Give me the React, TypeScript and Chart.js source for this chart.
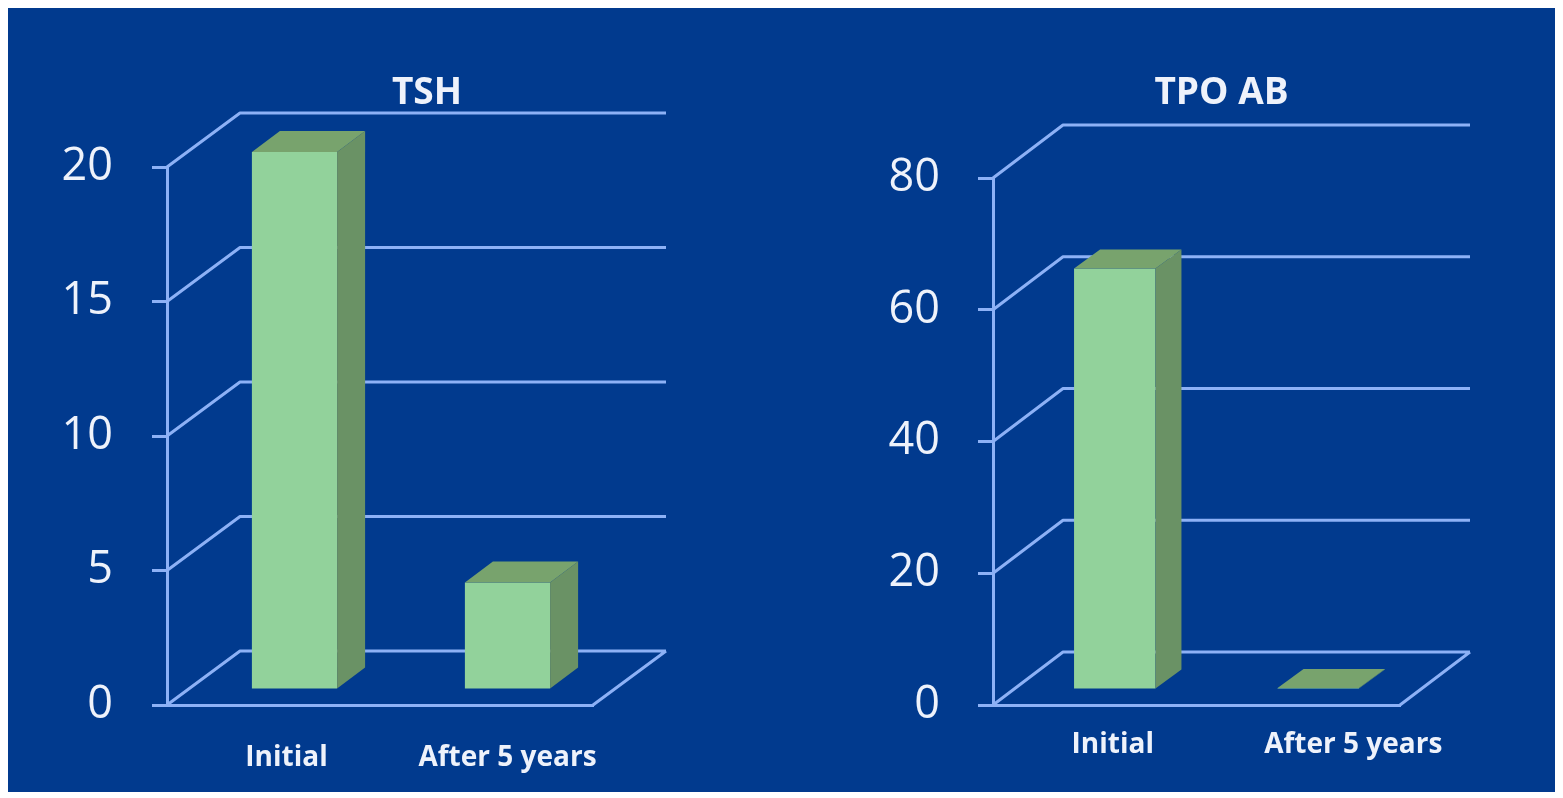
import React, { useEffect, useRef } from "react";
import { Chart, registerables } from "chart.js";

Chart.register(...registerables);

// ---- data ----
const categories = ["Initial", "After 5 years"];
const tshValues = [20, 4];
const tpoValues = [64, 0.3];
const tshTicks = [0, 5, 10, 15, 20];
const tpoTicks = [0, 20, 40, 60, 80];
const titles = ["TSH", "TPO AB"];

// ---- styles ----
const BG = "#013a8e";
const LINE = "#8db1f6";
const LW = 3;
const FRONT = "#92d29b";
const SIDE = "#6a9265";
const TOP = "#78a36d";
const TEXT = "#eef2fb";

type Cfg = {
  title: string;
  labels: string[];
  values: number[];
  ticks: number[];
  width: number;
  height: number;
  area: { left: number; right: number; top: number; bottom: number };
  depth: { dx: number; dy: number };
  plane: { dx: number; dy: number };
  barDepth: { dx: number; dy: number };
  tickPadding: number;
  titleShift: number;
  titleY: number;
  labelShift: number[];
  labelDy: number;
};

function poly(ctx: CanvasRenderingContext2D, pts: number[]) {
  ctx.beginPath();
  ctx.moveTo(pts[0], pts[1]);
  for (let i = 2; i < pts.length; i += 2) ctx.lineTo(pts[i], pts[i + 1]);
  ctx.closePath();
  ctx.fill();
}

function make3D(cfg: Cfg) {
  return {
    id: "threeD",
    beforeDatasetsDraw(chart: any) {
      const { ctx, chartArea: a, scales } = chart;
      const y = scales.y;
      ctx.save();
      ctx.strokeStyle = LINE;
      ctx.lineWidth = LW;
      ctx.lineJoin = "round";
      ctx.beginPath();
      for (const t of y.ticks) {
        const py = y.getPixelForValue(t.value);
        ctx.moveTo(a.left, py);
        ctx.lineTo(a.left + cfg.depth.dx, py + cfg.depth.dy);
        ctx.lineTo(a.right + cfg.depth.dx, py + cfg.depth.dy);
      }
      const p0 = y.getPixelForValue(0);
      ctx.moveTo(a.right, p0);
      ctx.lineTo(a.right + cfg.depth.dx, p0 + cfg.depth.dy);
      ctx.stroke();
      ctx.restore();
      ctx.save();
      ctx.translate(cfg.plane.dx, cfg.plane.dy);
    },
    afterDatasetsDraw(chart: any) {
      const { ctx, chartArea: a, scales } = chart;
      const meta = chart.getDatasetMeta(0);
      const bd = cfg.barDepth;
      meta.data.forEach((el: any) => {
        const { x, y, base, width } = el.getProps(["x", "y", "base", "width"], true);
        const l = x - width / 2;
        const r = x + width / 2;
        ctx.fillStyle = SIDE;
        poly(ctx, [r, y, r + bd.dx, y + bd.dy, r + bd.dx, base + bd.dy, r, base]);
        ctx.fillStyle = TOP;
        poly(ctx, [l, y, l + bd.dx, y + bd.dy, r + bd.dx, y + bd.dy, r, y]);
      });
      ctx.restore();

      // category labels
      ctx.save();
      ctx.fillStyle = TEXT;
      ctx.textAlign = "center";
      ctx.textBaseline = "middle";
      ctx.font = "bold 28px 'Open Sans'";
      const xs = scales.x;
      cfg.labels.forEach((lab, i) => {
        ctx.fillText(lab, xs.getPixelForValue(i) + cfg.labelShift[i], a.bottom + cfg.labelDy);
      });
      // title
      ctx.font = "bold 37px 'Open Sans'";
      ctx.fillText(cfg.title, (a.left + a.right) / 2 + cfg.titleShift, cfg.titleY);
      ctx.restore();
    },
  };
}

function Bar3D({ cfg }: { cfg: Cfg }) {
  const ref = useRef<HTMLCanvasElement>(null);
  useEffect(() => {
    if (!ref.current) return;
    const a = cfg.area;
    const xAxisH = 40;
    const chart = new Chart(ref.current, {
      type: "bar",
      data: {
        labels: cfg.labels,
        datasets: [
          {
            data: cfg.values,
            backgroundColor: FRONT,
            borderWidth: 0,
            barPercentage: 0.4,
            categoryPercentage: 1,
            clip: false as any,
          },
        ],
      },
      options: {
        animation: false,
        responsive: false,
        devicePixelRatio: 1,
        layout: {
          padding: {
            left: 0,
            top: a.top,
            right: cfg.width - a.right,
            bottom: cfg.height - a.bottom - xAxisH,
          },
        },
        plugins: { legend: { display: false }, tooltip: { enabled: false }, title: { display: false } },
        scales: {
          x: {
            type: "category",
            grid: { display: false },
            border: { display: true, color: LINE, width: LW },
            ticks: { display: false },
            afterFit: (s: any) => {
              s.height = xAxisH;
            },
          },
          y: {
            min: cfg.ticks[0],
            max: cfg.ticks[cfg.ticks.length - 1],
            afterBuildTicks: (s: any) => {
              s.ticks = cfg.ticks.map((v) => ({ value: v }));
            },
            grid: {
              display: true,
              drawOnChartArea: false,
              drawTicks: true,
              tickLength: 15,
              color: LINE,
              lineWidth: LW,
            },
            border: { display: true, color: LINE, width: LW },
            ticks: {
              color: TEXT,
              padding: cfg.tickPadding,
              font: { family: "'Open Sans'", size: 45 },
            },
            afterFit: (s: any) => {
              s.width = a.left;
            },
          },
        },
      },
      plugins: [make3D(cfg)],
    });
    return () => chart.destroy();
  }, [cfg]);
  return <canvas ref={ref} width={cfg.width} height={cfg.height} style={{ display: "block" }} />;
}

const leftCfg: Cfg = {
  title: titles[0],
  labels: categories,
  values: tshValues,
  ticks: tshTicks,
  width: 772,
  height: 786,
  area: { left: 159, right: 585, top: 161, bottom: 699 },
  depth: { dx: 73, dy: -54 },
  plane: { dx: 21, dy: -15 },
  barDepth: { dx: 28, dy: -21 },
  tickPadding: 39,
  titleShift: 47,
  titleY: 87,
  labelShift: [13, 21],
  labelDy: 53,
};

const rightCfg: Cfg = {
  title: titles[1],
  labels: categories,
  values: tpoValues,
  ticks: tpoTicks,
  width: 775,
  height: 786,
  area: { left: 213, right: 620, top: 172, bottom: 699 },
  depth: { dx: 70, dy: -53 },
  plane: { dx: 20, dy: -15 },
  barDepth: { dx: 26, dy: -19 },
  tickPadding: 38,
  titleShift: 25,
  titleY: 87,
  labelShift: [18, 55],
  labelDy: 40,
};

export default function App() {
  return (
    <div
      style={{
        position: "relative",
        width: 1547,
        height: 786,
        marginTop: -2,
        background: BG,
      }}
    >
      <div style={{ position: "absolute", left: 0, top: 0 }}>
        <Bar3D cfg={leftCfg} />
      </div>
      <div style={{ position: "absolute", left: 772, top: 0 }}>
        <Bar3D cfg={rightCfg} />
      </div>
    </div>
  );
}
